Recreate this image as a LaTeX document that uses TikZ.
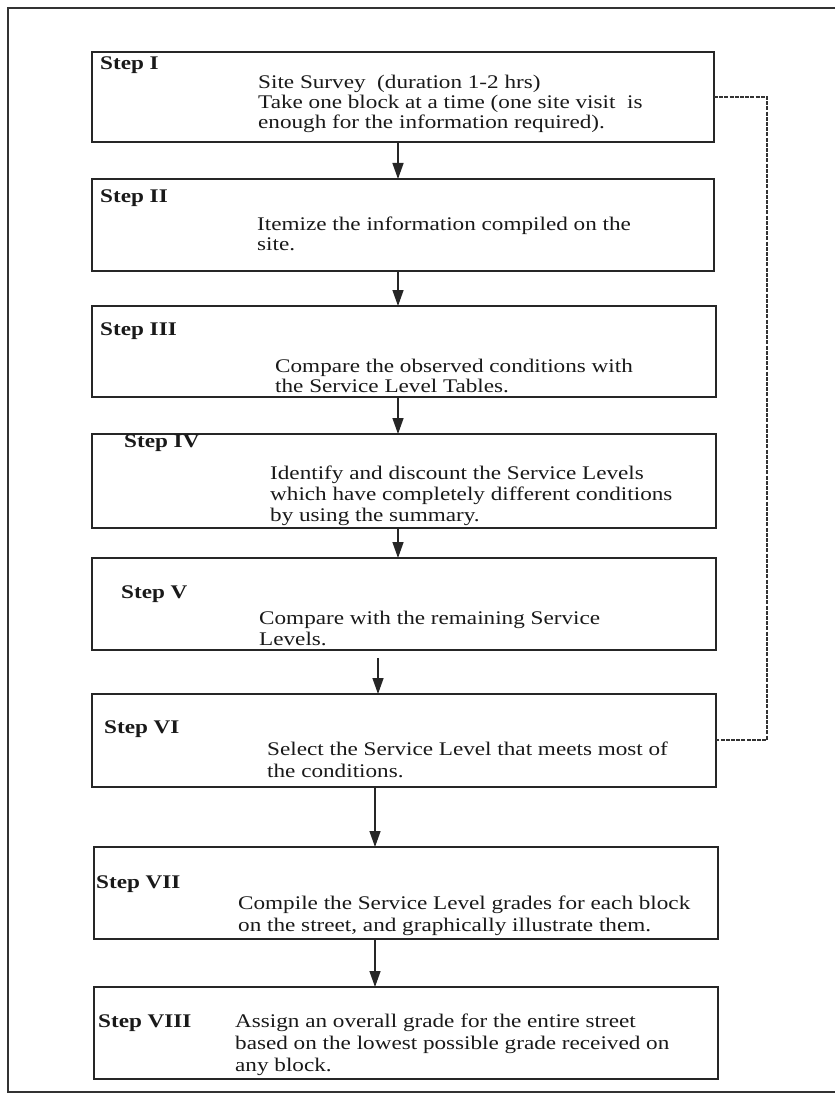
\documentclass[tikz,border=0pt]{standalone}
\usepackage{fontspec}
\setmainfont{Liberation Serif}[FakeStretch=1.2]
\usetikzlibrary{arrows.meta}
\newcommand\bodyfont{\fontsize{19.3}{21}\selectfont}
\begin{document}
\begin{tikzpicture}[x=1pt,y=-1pt,
  box/.style={draw=black!85, line width=1.5pt, rectangle, inner sep=0pt, outer sep=0pt, anchor=north west},
  txt/.style={anchor=base west, inner sep=0pt, font=\bodyfont, text=black!90},
  lab/.style={txt, font=\bodyfont\bfseries},
  arr/.style={draw=black!85, line width=1.4pt, -{Triangle[length=16pt,width=11pt]}, fill=black!70},
  frame/.style={draw=black!80, line width=1.2pt},
  fb/.style={draw=black!80, line width=1.4pt, dash pattern=on 4pt off 1.2pt}]
\useasboundingbox (0,0) rectangle (835,1102);
% outer frame
\coordinate (o1) at (835,8);
\coordinate (o2) at (8,8);
\coordinate (o3) at (8,1092);
\coordinate (o4) at (835,1092);
\draw[frame] (o1) -- (o2) -- (o3) -- (o4);
% boxes
\node[box, minimum width=622pt, minimum height=90pt] (b1) at (92,52) {};
\node[box, minimum width=622pt, minimum height=92pt] (b2) at (92,179) {};
\node[box, minimum width=624pt, minimum height=91pt] (b3) at (92,306) {};
\node[box, minimum width=624pt, minimum height=94pt] (b4) at (92,434) {};
\node[box, minimum width=624pt, minimum height=92pt] (b5) at (92,558) {};
\node[box, minimum width=624pt, minimum height=93pt] (b6) at (92,694) {};
\node[box, minimum width=624pt, minimum height=92pt] (b7) at (94,847) {};
\node[box, minimum width=624pt, minimum height=92pt] (b8) at (94,987) {};
% texts
\node[lab] (l1) at (100,70) {Step I};
\node[txt] (t1a) at (258,89) {Site Survey\ \ (duration 1-2 hrs)};
\node[txt] (t1b) at (258,109) {Take one block at a time (one site visit\ \ is};
\node[txt] (t1c) at (258,129) {enough for the information required).};
\node[lab] (l2) at (100,202) {Step II};
\node[txt] (t2a) at (257,230) {Itemize the information compiled on the};
\node[txt] (t2b) at (257,250) {site.};
\node[lab] (l3) at (100,335) {Step III};
\node[txt] (t3a) at (275,372) {Compare the observed conditions with};
\node[txt] (t3b) at (275,392) {the Service Level Tables.};
\node[lab] (l4) at (124,447) {Step IV};
\node[txt] (t4a) at (270,479) {Identify and discount the Service Levels};
\node[txt] (t4b) at (270,500) {which have completely different conditions};
\node[txt] (t4c) at (270,521) {by using the summary.};
\node[lab] (l5) at (121,598) {Step V};
\node[txt] (t5a) at (259,624) {Compare with the remaining Service};
\node[txt] (t5b) at (259,645) {Levels.};
\node[lab] (l6) at (104,733) {Step VI};
\node[txt] (t6a) at (267,755) {Select the Service Level that meets most of};
\node[txt] (t6b) at (267,777) {the conditions.};
\node[lab] (l7) at (96,888) {Step VII};
\node[txt] (t7a) at (238,909) {Compile the Service Level grades for each block};
\node[txt] (t7b) at (238,931) {on the street, and graphically illustrate them.};
\node[lab] (l8) at (98,1027) {Step VIII};
\node[txt] (t8a) at (235,1027) {Assign an overall grade for the entire street};
\node[txt] (t8b) at (235,1049) {based on the lowest possible grade received on};
\node[txt] (t8c) at (235,1071) {any block.};
% arrows
\coordinate (a1) at (398,0);
\coordinate (a5) at (378,658);
\coordinate (a6) at (375,0);
\draw[arr] (b1.south -| a1) -- (b2.north -| a1);
\draw[arr] (b2.south -| a1) -- (b3.north -| a1);
\draw[arr] (b3.south -| a1) -- (b4.north -| a1);
\draw[arr] (b4.south -| a1) -- (b5.north -| a1);
\draw[arr] (a5) -- (b6.north -| a5);
\draw[arr] (b6.south -| a6) -- (b7.north -| a6);
\draw[arr] (b7.south -| a6) -- (b8.north -| a6);
% dashed feedback
\coordinate (d1) at (767,97);
\coordinate (d2) at (767,740);
\draw[fb] (b1.east |- d1) -- (d1) -- (d2) -- (b6.east |- d2);
\end{tikzpicture}
\end{document}
